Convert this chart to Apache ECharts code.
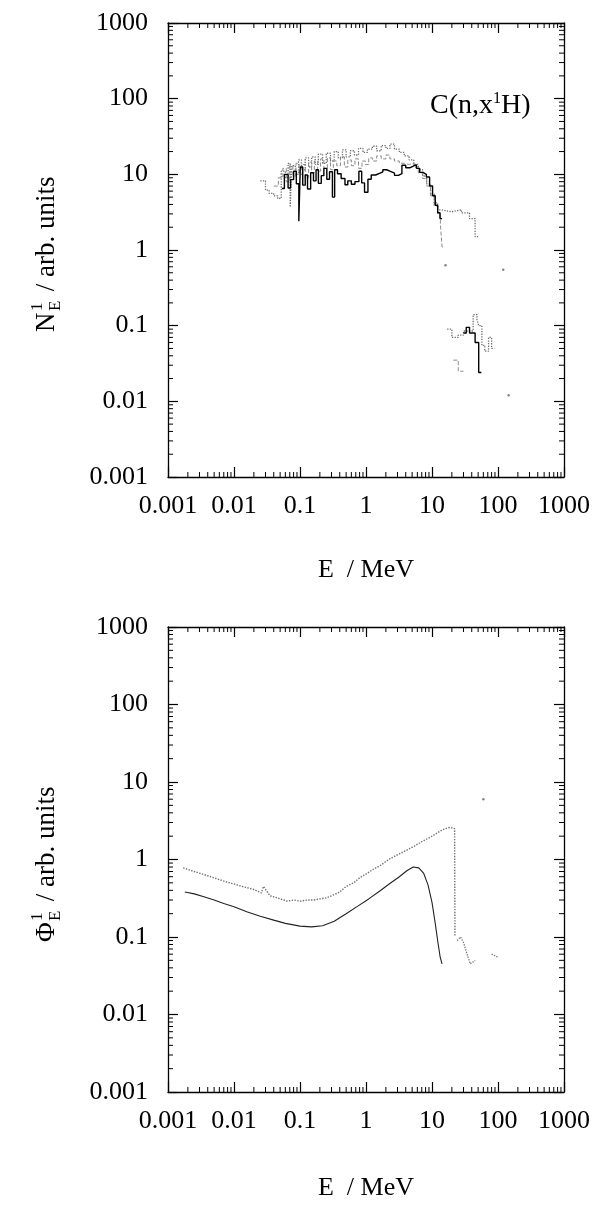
<!DOCTYPE html>
<html>
<head>
<meta charset="utf-8">
<script src="https://cdn.jsdelivr.net/npm/echarts@6/dist/echarts.min.js"></script>
<style>
  html, body { margin: 0; padding: 0; background: #fff; }
  #chart { width: 603px; height: 1214px; }
</style>
</head>
<body>
<div id="chart"></div>
<script>
// Log-decade tick labels shared by both panels (x and y run 0.001 .. 1000)
const TICK_LABELS = ['0.001', '0.01', '0.1', '1', '10', '100', '1000'];

// ---- Upper panel: C(n,x 1H) spectra, histograms (bin edges in MeV, values in arb. units)
const SOLID_EDGES = [0.053, 0.058, 0.066, 0.072, 0.08, 0.088, 0.096, 0.101, 0.11, 0.12, 0.13, 0.145, 0.16, 0.175, 0.19, 0.21, 0.23, 0.255, 0.28, 0.31, 0.335, 0.37, 0.42, 0.48, 0.53, 0.6, 0.68, 0.78, 0.86, 0.95, 1.07, 1.2, 1.4, 1.6, 1.8, 2.05, 2.3, 2.7, 3.1, 3.5, 4.0, 4.6, 5.2, 5.8, 6.5, 7.3, 8.2, 9.2, 10.2, 11.2, 12.2, 13.2, 14.2];
const SOLID_VALUES = [6.5, 10, 6.6, 8.5, 11, 7.5, 2.4, 12.5, 7.2, 9.8, 6.4, 10.5, 8.2, 11.5, 7.6, 9.6, 12, 8.6, 10.8, 5.0, 11.5, 10.2, 8.8, 7.3, 8.2, 7.4, 8.0, 11, 7.7, 5.8, 8.6, 9.8, 10.3, 10.8, 11.5, 11, 10.4, 9.7, 10.2, 13.2, 12.2, 12.8, 13.4, 12, 10.6, 10, 9.2, 7, 5.2, 3.9, 3.1, 2.6];

const DASHED_EDGES = [0.04, 0.047, 0.055, 0.062, 0.07, 0.078, 0.087, 0.097, 0.108, 0.12, 0.135, 0.15, 0.165, 0.185, 0.205, 0.23, 0.26, 0.29, 0.32, 0.36, 0.41, 0.47, 0.53, 0.6, 0.68, 0.77, 0.87, 0.98, 1.1, 1.25, 1.45, 1.7, 2.0, 2.3, 2.7, 3.2, 3.8, 4.5, 5.3, 6.2, 7.2, 8.3, 9.5, 10.8, 12.2, 13.4, 14.2, 14.6];
const DASHED_VALUES = [7, 9, 12, 8, 13, 9.5, 14, 10, 13.5, 9, 14.5, 10.5, 15, 11, 16, 12, 16.5, 11.5, 15, 13, 17, 12.5, 15.5, 13, 16, 12, 15, 13.5, 16.5, 15, 17.5, 16, 18, 16, 15, 14, 13.5, 14, 12.5, 10.5, 8.8, 7, 5.2, 3.8, 3, 2.2, 1.1];

const DOTTED_EDGES = [0.025, 0.03, 0.034, 0.04, 0.046, 0.052, 0.06, 0.066, 0.071, 0.075, 0.085, 0.095, 0.105, 0.12, 0.135, 0.15, 0.17, 0.19, 0.22, 0.25, 0.29, 0.33, 0.38, 0.44, 0.5, 0.58, 0.67, 0.77, 0.9, 1.05, 1.25, 1.45, 1.7, 2.0, 2.3, 2.7, 3.2, 3.8, 4.5, 5.3, 6.2, 7.2, 8.3, 9.5, 10.8, 12.2, 14, 20, 28, 37, 45, 50];
const DOTTED_VALUES = [8.2, 6.2, 5.6, 5.2, 4.8, 11, 9, 14, 3.7, 13, 10, 15.5, 11.5, 16.5, 12.5, 17, 13.5, 18.5, 14, 19, 15, 20, 16.5, 21, 17, 20.5, 18, 22, 19.5, 21.5, 23.5, 20.5, 24, 22, 25, 21.5, 19.5, 17.5, 15.5, 13.5, 11.5, 9.5, 7.5, 5.5, 4.2, 3.4, 3.2, 3.4, 3.1, 2.6, 1.5];

// high-energy group around 0.1
const HE_SOLID_EDGES = [30, 33, 37, 45, 51, 56];
const HE_SOLID_VALUES = [0.08, 0.095, 0.08, 0.06, 0.024];
const HE_DOTTED_EDGES = [17, 20, 25, 30, 42, 48, 51, 57, 63, 72, 80, 88];
const HE_DOTTED_VALUES = [0.09, 0.07, 0.075, 0.085, 0.14, 0.12, 0.1, 0.055, 0.046, 0.07, 0.05];
const HE_DASHED_EDGES = [21, 25, 30];
const HE_DASHED_VALUES = [0.035, 0.025];
const UPPER_POINTS_E = [16, 120, 145];
const UPPER_POINTS_V = [0.63, 0.55, 0.012];

// ---- Lower panel: fluence spectra
const PHI_SOLID_E = [0.0018, 0.0025, 0.0035, 0.005, 0.007, 0.01, 0.016, 0.025, 0.04, 0.06, 0.1, 0.15, 0.22, 0.33, 0.5, 0.75, 1.1, 1.6, 2.3, 3.2, 4.2, 5.2, 6.3, 7.5, 8.7, 10, 11.2, 12.3, 13.3, 14.2];
const PHI_SOLID = [0.38, 0.36, 0.33, 0.3, 0.27, 0.245, 0.21, 0.185, 0.165, 0.15, 0.138, 0.135, 0.14, 0.16, 0.2, 0.25, 0.31, 0.39, 0.49, 0.6, 0.72, 0.8, 0.78, 0.66, 0.47, 0.28, 0.15, 0.085, 0.055, 0.045];
const PHI_DOTTED_E = [0.0017, 0.0025, 0.0039, 0.006, 0.0073, 0.0103, 0.0132, 0.02, 0.026, 0.028, 0.035, 0.045, 0.057, 0.063, 0.08, 0.1, 0.13, 0.16, 0.2, 0.25, 0.3, 0.4, 0.5, 0.65, 0.8, 1, 1.3, 1.7, 2.2, 3, 4, 5.5, 7, 9, 11, 13, 15, 17, 19, 22, 22.3];
const PHI_DOTTED = [0.78, 0.7, 0.62, 0.55, 0.52, 0.48, 0.45, 0.41, 0.37, 0.45, 0.34, 0.32, 0.3, 0.29, 0.3, 0.29, 0.3, 0.3, 0.31, 0.32, 0.34, 0.38, 0.45, 0.5, 0.58, 0.65, 0.75, 0.85, 1.0, 1.15, 1.3, 1.5, 1.7, 1.9, 2.1, 2.3, 2.45, 2.55, 2.6, 2.5, 0.1];
const PHI_TAIL_E = [24, 27, 30, 34, 38, 45];
const PHI_TAIL = [0.09, 0.1, 0.085, 0.06, 0.045, 0.05];
const PHI_FAR_E = [80, 100];
const PHI_FAR = [0.06, 0.055];
const PHI_POINTS_E = [60];
const PHI_POINTS = [6];

const FONT = '"Liberation Serif", "Times New Roman", serif';
const AX_MIN = 0.001, AX_MAX = 1000;

function histogram(edges, values) {
  const pts = values.map((v, i) => [edges[i], v]);
  pts.push([edges[edges.length - 1], values[values.length - 1]]);
  return pts;
}
function pairs(xs, ys) { return xs.map((x, i) => [x, ys[i]]); }

// minor tick positions 2..9 x 10^k
const MINOR = [];
for (let k = -3; k < 3; k++) for (let m = 2; m <= 9; m++) MINOR.push(m * Math.pow(10, k));

const tickLabel = v => TICK_LABELS[Math.round(Math.log10(v)) + 3];

function logAxis(dim, gridIndex, position, labels) {
  return {
    type: 'log', gridIndex, position, min: AX_MIN, max: AX_MAX, logBase: 10, splitNumber: 6,
    axisLine: { show: true, onZero: false, lineStyle: { color: '#000', width: 1.3 } },
    axisTick: { show: true, inside: true, length: 10, lineStyle: { color: '#000', width: 1.2 } },
    minorTick: { show: false },
    splitLine: { show: false },
    axisLabel: {
      show: labels, formatter: tickLabel, color: '#000', fontFamily: FONT, fontSize: 26,
      margin: dim === 'x' ? 16 : 20
    }
  };
}

function minorTickSeries(dim, xAxisIndex, yAxisIndex) {
  return {
    type: 'custom', xAxisIndex, yAxisIndex, silent: true, animation: false, clip: false,
    data: MINOR.map(v => dim === 'x' ? [v, 1] : [1, v]),
    renderItem: function (params, api) {
      const v = dim === 'x' ? api.value(0) : api.value(1);
      const style = { stroke: '#000', lineWidth: 1 };
      const len = 5;
      if (dim === 'x') {
        const a = api.coord([v, AX_MIN]), b = api.coord([v, AX_MAX]);
        return { type: 'group', children: [
          { type: 'line', shape: { x1: a[0], y1: a[1], x2: a[0], y2: a[1] - len }, style },
          { type: 'line', shape: { x1: b[0], y1: b[1], x2: b[0], y2: b[1] + len }, style }
        ]};
      }
      const a = api.coord([AX_MIN, v]), b = api.coord([AX_MAX, v]);
      return { type: 'group', children: [
        { type: 'line', shape: { x1: a[0], y1: a[1], x2: a[0] + len, y2: a[1] }, style },
        { type: 'line', shape: { x1: b[0], y1: b[1], x2: b[0] - len, y2: b[1] }, style }
      ]};
    }
  };
}

function stepLine(data, axisIdx, color, type, width) {
  return {
    type: 'line', step: 'end', xAxisIndex: axisIdx, yAxisIndex: axisIdx, data,
    symbol: 'none', showSymbol: false, animation: false, silent: true,
    lineStyle: { color, type, width }
  };
}
function curve(data, axisIdx, color, type, width) {
  return {
    type: 'line', xAxisIndex: axisIdx, yAxisIndex: axisIdx, data,
    symbol: 'none', showSymbol: false, animation: false, silent: true, smooth: false,
    lineStyle: { color, type, width }
  };
}
function dots(data, axisIdx) {
  return {
    type: 'scatter', xAxisIndex: axisIdx, yAxisIndex: axisIdx, data, symbolSize: 2.5,
    itemStyle: { color: '#666' }, animation: false, silent: true
  };
}

// rotated y-axis title with stacked superscript 1 / subscript E
function yTitle(cx, cy, symbol) {
  const f = 27, s = 17;
  const x0 = -80;
  return {
    type: 'group', x: cx, y: cy, rotation: Math.PI / 2, silent: true,
    children: [
      { type: 'text', x: x0, y: 0, style: { text: symbol, font: f + 'px ' + FONT, fill: '#000', verticalAlign: 'middle', align: 'left' } },
      { type: 'text', x: x0 + 21, y: -9, style: { text: '1', font: s + 'px ' + FONT, fill: '#000', verticalAlign: 'middle', align: 'left' } },
      { type: 'text', x: x0 + 21, y: 9, style: { text: 'E', font: s + 'px ' + FONT, fill: '#000', verticalAlign: 'middle', align: 'left' } },
      { type: 'text', x: x0 + 34, y: 0, style: { text: ' / arb. units', font: f + 'px ' + FONT, fill: '#000', verticalAlign: 'middle', align: 'left' } }
    ]
  };
}

const GRAY = '#6f6f6f';
const chart = echarts.init(document.getElementById('chart'), null, { renderer: 'canvas' });

chart.setOption({
  backgroundColor: '#fff',
  animation: false,
  grid: [
    { left: 168, top: 23, width: 396, height: 454 },
    { left: 168, top: 627, width: 396, height: 465 }
  ],
  xAxis: [
    Object.assign(logAxis('x', 0, 'bottom', true), {
      name: 'E  / MeV', nameLocation: 'middle', nameGap: 80,
      nameTextStyle: { fontFamily: FONT, fontSize: 26, color: '#000' }
    }),
    logAxis('x', 0, 'top', false),
    Object.assign(logAxis('x', 1, 'bottom', true), {
      name: 'E  / MeV', nameLocation: 'middle', nameGap: 83,
      nameTextStyle: { fontFamily: FONT, fontSize: 26, color: '#000' }
    }),
    logAxis('x', 1, 'top', false)
  ],
  yAxis: [
    logAxis('y', 0, 'left', true),
    logAxis('y', 0, 'right', false),
    logAxis('y', 1, 'left', true),
    logAxis('y', 1, 'right', false)
  ],
  graphic: [
    yTitle(47, 252, 'N'),
    yTitle(47, 862, '\u03A6'),
    {
      type: 'text', x: 430, y: 106, silent: true,
      style: {
        text: '{a|C(n,x}{s|1}{a|H)}', verticalAlign: 'middle', align: 'left',
        rich: {
          a: { fontFamily: FONT, fontSize: 28, fill: '#000', lineHeight: 30 },
          s: { fontFamily: FONT, fontSize: 16, fill: '#000', verticalAlign: 'top', lineHeight: 16 }
        }
      }
    }
  ],
  series: [
    minorTickSeries('x', 0, 0),
    minorTickSeries('y', 0, 0),
    minorTickSeries('x', 2, 2),
    minorTickSeries('y', 2, 2),

    stepLine(histogram(DOTTED_EDGES, DOTTED_VALUES), 0, GRAY, 'dotted', 1.3),
    stepLine(histogram(DASHED_EDGES, DASHED_VALUES), 0, '#8a8a8a', 'dashed', 1),
    stepLine(histogram(SOLID_EDGES, SOLID_VALUES), 0, '#000', 'solid', 1.4),
    stepLine(histogram(HE_DOTTED_EDGES, HE_DOTTED_VALUES), 0, GRAY, 'dotted', 1.3),
    stepLine(histogram(HE_DASHED_EDGES, HE_DASHED_VALUES), 0, '#8a8a8a', 'dashed', 1),
    stepLine(histogram(HE_SOLID_EDGES, HE_SOLID_VALUES), 0, '#000', 'solid', 1.4),
    dots(pairs(UPPER_POINTS_E, UPPER_POINTS_V), 0),

    curve(pairs(PHI_DOTTED_E, PHI_DOTTED), 2, GRAY, 'dotted', 1.4),
    curve(pairs(PHI_SOLID_E, PHI_SOLID), 2, '#222', 'solid', 1.1),
    curve(pairs(PHI_TAIL_E, PHI_TAIL), 2, GRAY, 'dotted', 1.3),
    curve(pairs(PHI_FAR_E, PHI_FAR), 2, GRAY, 'dotted', 1.3),
    dots(pairs(PHI_POINTS_E, PHI_POINTS), 2)
  ]
});
</script>
</body>
</html>
